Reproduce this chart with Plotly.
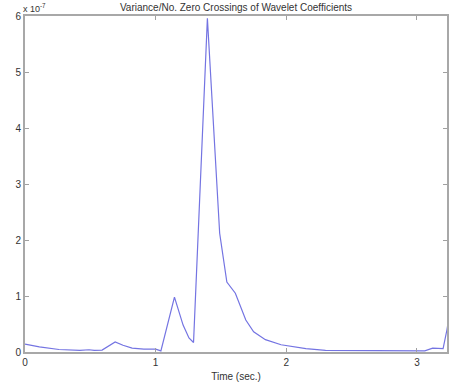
import plotly.graph_objects as go

time_s = [0.0, 0.11, 0.26, 0.42, 0.49, 0.53, 0.59, 0.69, 0.75, 0.82, 0.91, 1.0, 1.04,
          1.144, 1.21, 1.255, 1.29, 1.396, 1.49, 1.545, 1.61, 1.69, 1.75, 1.84, 1.96,
          2.06, 2.15, 2.30, 2.70, 3.06, 3.12, 3.20, 3.23, 3.27]
variance = [0.14, 0.09, 0.045, 0.03, 0.04, 0.03, 0.035, 0.18, 0.12, 0.07, 0.05, 0.05, 0.02,
            0.98, 0.48, 0.25, 0.17, 5.96, 2.12, 1.25, 1.05, 0.57, 0.36, 0.22, 0.13,
            0.09, 0.06, 0.03, 0.02, 0.02, 0.07, 0.06, 0.4, 1.0]

x_ticks = [0, 1, 2, 3]
y_ticks = [0, 1, 2, 3, 4, 5, 6]

fig = go.Figure()
fig.add_trace(go.Scatter(x=time_s, y=variance, mode="lines",
                         line=dict(color="#7474e2", width=1.2),
                         showlegend=False, hoverinfo="skip"))

axis_common = dict(showgrid=False, zeroline=False, showline=True, linecolor="#a8a8a8",
                   linewidth=2, ticks="inside", ticklen=4, tickcolor="#a0a0a0",
                   mirror="ticks", tickfont=dict(family="Liberation Sans, Arial", size=10, color="#333333"))

fig.update_layout(
    width=449, height=383,
    margin=dict(l=25, r=0, t=16, b=31),
    paper_bgcolor="white", plot_bgcolor="white",
    title=dict(text="Variance/No. Zero Crossings of Wavelet Coefficients",
               x=0.5, xref="paper", y=0.99, yref="container", yanchor="top",
               font=dict(family="Liberation Sans, Arial", size=10, color="#333333")),
    xaxis=dict(range=[0, 3.23], tickvals=x_ticks, ticktext=[str(v) for v in x_ticks],
               title=dict(text="Time (sec.)", standoff=6,
                          font=dict(family="Liberation Sans, Arial", size=10, color="#333333")),
               **axis_common),
    yaxis=dict(range=[0, 6], tickvals=y_ticks, ticktext=[str(v) for v in y_ticks],
               **axis_common),
    annotations=[dict(text="x 10<sup>-7</sup>", xref="paper", yref="paper", x=0.0, y=1.0,
                      xanchor="left", yanchor="bottom", showarrow=False, xshift=-4,
                      font=dict(family="Liberation Sans, Arial", size=9, color="#333333"))],
)

fig.write_html("out.html")
